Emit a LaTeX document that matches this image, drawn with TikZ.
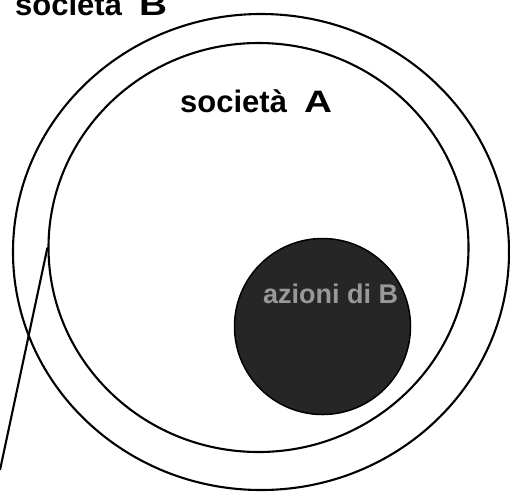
\documentclass[tikz,border=0pt]{standalone}
\usepackage{fontspec}
\setmainfont{Liberation Sans}
\usetikzlibrary{shapes.geometric}
\begin{document}
\begin{tikzpicture}[x=1pt,y=-1pt,
  ring/.style={draw=black,line width=2.1pt,ellipse,inner sep=0pt},
  lbl/.style={font=\bfseries,inner sep=0pt,anchor=base west}]
\useasboundingbox (0,0) rectangle (510,491);
\node[ring,minimum width=496,minimum height=476] (B) at (261,252) {};
\node[ring,minimum width=420,minimum height=409] (A) at (258.5,247.5) {};
\node[draw=black,line width=1.5pt,circle,inner sep=0pt,minimum size=176,fill=black!85] (S) at (322.5,326.5) {};
\node[lbl,text=black!40] (st) at (263,303) {\fontsize{27}{27}\selectfont azioni di B};
\node[lbl] (lb) at (15,15) {\fontsize{31}{31}\selectfont società\hspace{0.55em}\scalebox{1.25}[1]{\fontsize{31}{31}\selectfont B}};
\node[lbl] (la) at (180,112) {\fontsize{31}{31}\selectfont società\hspace{0.55em}\scalebox{1.25}[1]{\fontsize{31}{31}\selectfont A}};
\coordinate (e) at (0,470);
\draw[line width=2.1pt] (A.west) -- (e);
\end{tikzpicture}
\end{document}
